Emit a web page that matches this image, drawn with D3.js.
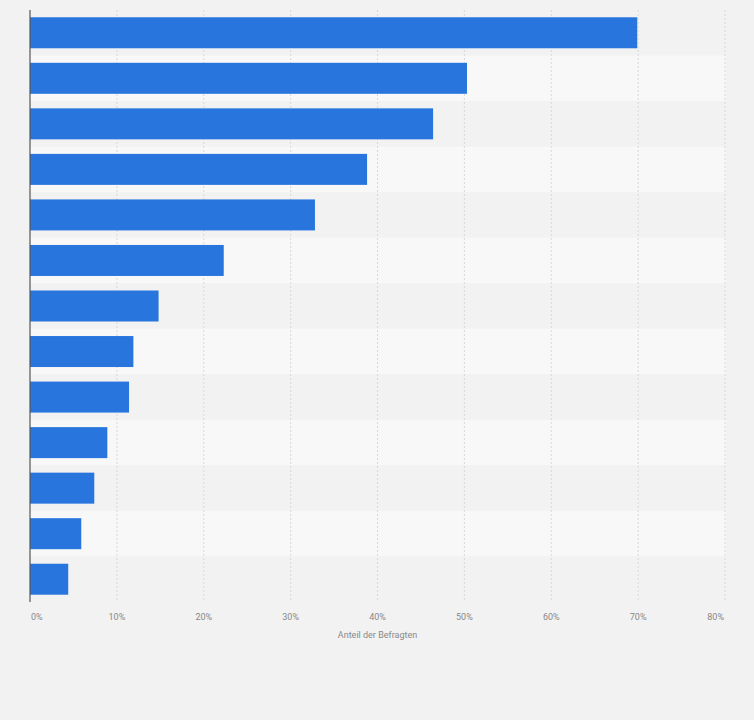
<!DOCTYPE html>
<html><head><meta charset="utf-8">
<script src="https://cdn.jsdelivr.net/npm/d3@7"></script>
<style>body{margin:0;background:#f2f2f2;font-family:Roboto,"Liberation Sans",sans-serif}</style>
</head><body><div id="chart"></div>
<script>
const categories = ["A","B","C","D","E","F","G","H","I","J","K","L","M"];
const values = [69.9, 50.3, 46.4, 38.8, 32.8, 22.3, 14.8, 11.9, 11.4, 8.9, 7.4, 5.9, 4.4];
const ticks = [0, 10, 20, 30, 40, 50, 60, 70, 80];
const axisTitle = "Anteil der Befragten";

const W = 754, H = 720;
const m = { top: 10, left: 30, right: 29, bottom: 118 };
const svg = d3.select('#chart').append('svg').attr('width', W).attr('height', H);
svg.append('rect').attr('width', W).attr('height', H).attr('fill', '#f2f2f2');

const x = d3.scaleLinear().domain([0, 80]).range([m.left, W - m.right]);
const y = d3.scaleBand().domain(categories).range([m.top, H - m.bottom]);

svg.selectAll('.band').data(categories).join('rect')
  .attr('x', m.left).attr('y', (d) => y(d)).attr('width', W - m.right - m.left + 1).attr('height', y.bandwidth())
  .attr('fill', (d, i) => i % 2 ? '#f8f8f8' : '#f2f2f2');

svg.selectAll('.grid').data(ticks.slice(1)).join('line')
  .attr('x1', (d) => x(d)).attr('x2', (d) => x(d)).attr('y1', m.top).attr('y2', H - m.bottom)
  .attr('stroke', '#d8d8d8').attr('stroke-dasharray', '2,2');

const barH = 31;
svg.selectAll('.bar').data(values).join('rect')
  .attr('x', m.left).attr('y', (d, i) => y(categories[i]) + (y.bandwidth() - barH) / 2)
  .attr('width', (d) => x(d) - x(0)).attr('height', barH)
  .attr('fill', '#2876dd');

svg.append('line').attr('x1', m.left).attr('x2', m.left).attr('y1', m.top).attr('y2', H - m.bottom)
  .attr('stroke', '#555').attr('stroke-width', 1.2);

svg.selectAll('.tick').data(ticks).join('text')
  .attr('x', (d, i) => i === 0 ? x(d) + 1 : i === ticks.length - 1 ? x(d) - 1 : x(d))
  .attr('y', 620)
  .attr('text-anchor', (d, i) => i === 0 ? 'start' : i === ticks.length - 1 ? 'end' : 'middle')
  .attr('font-size', 9).attr('fill', '#888').text((d) => d + '%');

svg.append('text').attr('x', (x(0) + x(80)) / 2).attr('y', 638).attr('text-anchor', 'middle')
  .attr('font-size', 9).attr('fill', '#888').text(axisTitle);
</script></body></html>
